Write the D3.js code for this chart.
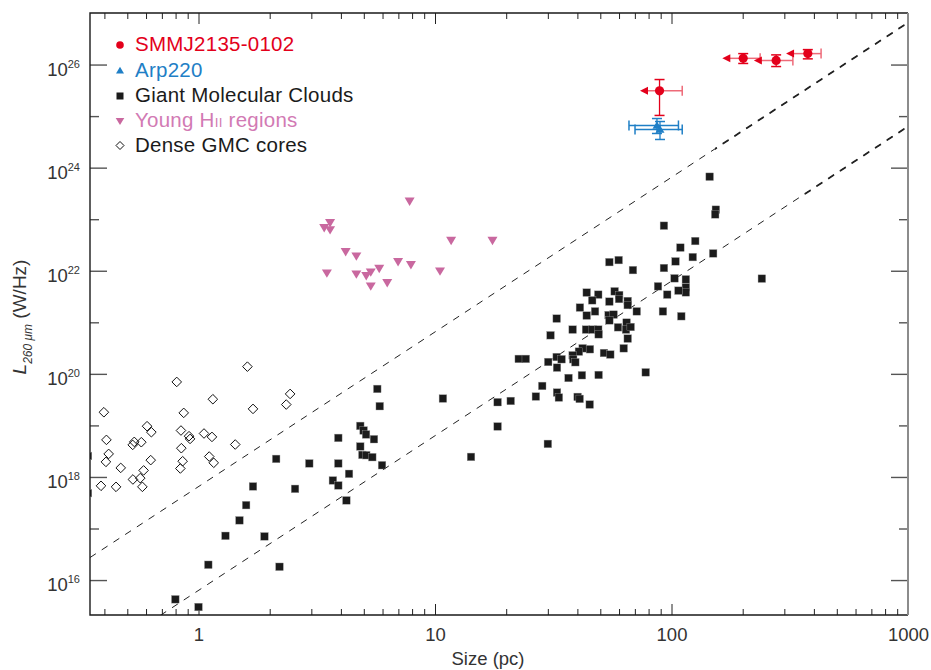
<!DOCTYPE html>
<html><head><meta charset="utf-8">
<script src="https://cdnjs.cloudflare.com/ajax/libs/d3/7.8.5/d3.min.js"></script>
<style>body{margin:0;background:#fff;} svg{display:block;font-family:"Liberation Sans",Arial,sans-serif;}</style>
</head><body><svg id="c" width="931" height="670"></svg>
<script>
// ---------------- data ----------------
const gmcSize = [5.70,5.84,4.83,4.99,5.11,5.52,3.90,4.83,4.93,5.12,5.43,5.97,2.13,2.94,3.90,4.33,3.70,3.90,4.22,1.70,2.56,1.59,1.49,1.30,1.90,1.10,2.20,0.798,1.00,0.341,0.341,
 43.8,49.0,46.2,57.5,60.1,60.0,54.6,65.3,65.3,41.0,43.8,47.5,54.2,56.9,54.6,32.7,59.4,64.6,38.2,43.5,46.4,49.0,49.2,64.2,30.8,65.3,42.1,45.2,40.6,38.2,51.8,55.1,62.8,32.7,34.3,38.4,39.2,30.1,22.6,24.2,32.8,36.7,41.8,49.2,28.4,26.7,32.8,33.4,40.1,40.9,45.1,18.4,20.9,18.4,30.0,14.2,10.8,
 145,154,153,92.9,126,109,123,150,104,54.6,59.8,68.7,92.9,103,115,115,115,107,87.7,95.9,241,92.0,110,71.3,67.2,77.8];
const gmcLum = [5.10e19,2.36e19,9.78e18,7.96e18,6.67e18,5.40e18,5.72e18,3.90e18,2.68e18,2.64e18,2.42e18,1.69e18,2.24e18,1.83e18,1.83e18,1.15e18,8.55e17,6.84e17,3.51e17,6.55e17,5.88e17,2.84e17,1.44e17,7.21e16,7.03e16,1.98e16,1.81e16,4.23e15,3.00e15,2.56e18,4.85e17,
 3.77e21,3.44e21,2.67e21,3.99e21,3.38e21,2.83e21,2.52e21,2.59e21,2.16e21,1.93e21,1.35e21,1.63e21,1.38e21,1.41e21,1.09e21,1.18e21,8.00e20,9.86e20,7.22e20,7.22e20,7.22e20,7.22e20,5.85e20,7.22e20,5.60e20,4.83e20,3.13e20,3.00e20,2.70e20,2.29e20,2.54e20,2.37e20,3.13e20,2.12e20,1.92e20,1.92e20,1.68e20,1.70e20,1.95e20,1.95e20,1.32e20,8.32e19,9.40e19,9.52e19,5.83e19,3.63e19,4.34e19,3.47e19,3.57e19,3.27e19,2.54e19,2.82e19,2.98e19,9.53e18,4.38e18,2.45e18,3.32e19,
 6.67e23,1.53e23,1.24e23,7.48e22,3.77e22,2.81e22,1.84e22,2.17e22,1.52e22,1.47e22,1.61e22,1.03e22,1.13e22,7.13e21,6.81e21,4.77e21,3.81e21,4.11e21,4.99e21,3.44e21,7.03e21,1.63e21,1.31e21,1.63e21,8.11e20,1.07e20];

const coreSize = [1.61,0.809,1.15,2.44,2.35,1.70,0.398,0.866,0.606,0.632,0.843,0.912,0.921,1.055,1.14,0.408,0.535,0.527,0.573,1.43,0.846,0.417,0.406,0.628,0.857,1.11,1.16,0.469,0.838,0.586,0.528,0.567,0.387,0.448,0.579];
const coreLum = [1.38e20,6.97e19,3.22e19,4.08e19,2.54e19,2.09e19,1.80e19,1.75e19,9.65e18,7.38e18,7.96e18,6.18e18,5.47e18,6.97e18,5.98e18,5.24e18,4.79e18,4.19e18,4.72e18,4.26e18,3.61e18,2.80e18,1.96e18,2.12e18,2.02e18,2.49e18,1.88e18,1.50e18,1.46e18,1.34e18,8.94e17,9.48e17,6.73e17,6.43e17,6.43e17];

const hiiSize = [7.81,3.60,3.40,3.60,11.7,17.5,4.19,4.65,3.49,4.65,5.35,5.12,5.81,6.98,7.91,10.5,6.28,5.35];
const hiiLum = [2.24e23,8.55e22,6.84e22,6.25e22,3.88e22,3.88e22,2.34e22,1.93e22,9.02e21,8.63e21,9.44e21,8.04e21,1.11e22,1.50e22,1.31e22,9.86e21,5.88e21,5.05e21];

const smmSize   = [89, 201, 277, 377];
const smmSizeLo = [73.6, 164, 223, 305];
const smmSizeHi = [111, 237, 326, 429];
const smmLum    = [3.09e25, 1.32e26, 1.20e26, 1.63e26];
const smmLumLo  = [1.03e25, 1.05e26, 9.15e25, 1.29e26];
const smmLumHi  = [5.12e25, 1.63e26, 1.54e26, 1.95e26];

const arpSize   = [86.8, 89.4];
const arpSizeLo = [66.1, 70.1];
const arpSizeHi = [107, 111];
const arpLum    = [6.58e24, 5.50e24];
const arpLumLo  = [4.60e24, 3.52e24];
const arpLumHi  = [8.97e24, 7.85e24];

const lineNorm = [6.5e17, 6.3e15];   // L at 1 pc for the two dashed relations
const lineSlope = 3;

const xTickLabels = ["1", "10", "100", "1000"];
const xTickValues = [1, 10, 100, 1000];
const yTickExps = [16, 18, 20, 22, 24, 26];
const yMinorExps = [17, 19, 21, 23, 25];
const legendLabels = ["SMMJ2135-0102", "Arp220", "Giant Molecular Clouds", "Young H|II| regions", "Dense GMC cores"];

// ---------------- layout ----------------
const C = {red:"#e3001b", redLight:"#ee6a78", blue:"#1f7fc6", pink:"#c9689f", pinkText:"#d27ab4", black:"#1b1b1b"};
const m = {l:90, r:908, t:13, b:615};
const svg = d3.select("#c");
const x = d3.scaleLog().domain([0.3477, 1000]).range([m.l, m.r]);
const y = d3.scaleLog().domain([2.1e15, 1e27]).range([m.b, m.t]);

svg.append("defs").append("clipPath").attr("id","clip")
  .append("rect").attr("x",m.l).attr("y",m.t).attr("width",m.r-m.l).attr("height",m.b-m.t);
svg.select("defs").append("clipPath").attr("id","clipThickA")
  .append("rect").attr("x",715).attr("y",m.t).attr("width",m.r-715).attr("height",m.b-m.t);
svg.select("defs").append("clipPath").attr("id","clipThickB")
  .append("rect").attr("x",800).attr("y",m.t).attr("width",m.r-800).attr("height",m.b-m.t);

// ---------------- ticks ----------------
const xMinor = [];
[0.1,1,10,100].forEach(d => { for (let k=2;k<=9;k++){ const v=d*k; if (v>=0.3477 && v<1000) xMinor.push(v);} });
function stripAxis(g){ g.select(".domain").remove(); }
svg.append("g").attr("transform",`translate(0,${m.b})`)
  .call(d3.axisBottom(x).tickValues(xMinor).tickSize(-6).tickFormat("")).call(stripAxis)
  .selectAll("line").attr("stroke","#222");
svg.append("g").attr("transform",`translate(0,${m.t})`)
  .call(d3.axisTop(x).tickValues(xMinor).tickSize(-6).tickFormat("")).call(stripAxis)
  .selectAll("line").attr("stroke","#222");
const xb = svg.append("g").attr("transform",`translate(0,${m.b})`)
  .call(d3.axisBottom(x).tickValues(xTickValues).tickSize(-11).tickPadding(13).tickFormat((d,i)=>xTickLabels[i])).call(stripAxis);
xb.selectAll("line").attr("stroke","#222");
xb.selectAll("text").attr("font-size",18.5).attr("fill","#333").attr("font-family","Liberation Sans, Arial, sans-serif");
svg.append("g").attr("transform",`translate(0,${m.t})`)
  .call(d3.axisTop(x).tickValues(xTickValues).tickSize(-11).tickFormat("")).call(stripAxis)
  .selectAll("line").attr("stroke","#222");

const yMaj = yTickExps.map(e => Math.pow(10,e));
const yMin = yMinorExps.map(e => Math.pow(10,e));
[[d3.axisLeft, m.l],[d3.axisRight, m.r]].forEach(([ax,pos]) => {
  svg.append("g").attr("transform",`translate(${pos},0)`)
    .call(ax(y).tickValues(yMaj).tickSize(-17).tickFormat("")).call(stripAxis)
    .selectAll("line").attr("stroke","#555").attr("stroke-width",1.4);
  svg.append("g").attr("transform",`translate(${pos},0)`)
    .call(ax(y).tickValues(yMin).tickSize(-9).tickFormat("")).call(stripAxis)
    .selectAll("line").attr("stroke","#555").attr("stroke-width",1.4);
});
const yl = svg.append("g");
yTickExps.forEach(e => {
  const t = yl.append("text").attr("x", 80).attr("y", y(Math.pow(10,e)) + 11)
    .attr("text-anchor","end").attr("fill","#333").attr("font-size",18.5);
  t.append("tspan").text("10");
  t.append("tspan").attr("font-size",11).attr("dy",-8).text(String(e));
});

// frame
svg.append("path").attr("d",`M${m.r},${m.t}H${m.l}V${m.b}H${m.r}`).attr("fill","none").attr("stroke","#1a1a1a").attr("stroke-width",1.4);
svg.append("line").attr("x1",m.r).attr("x2",m.r).attr("y1",m.t).attr("y2",m.b).attr("stroke","#8c8c8c").attr("stroke-width",2);

// ---------------- dashed relations ----------------
const plot = svg.append("g").attr("clip-path","url(#clip)");
const xd = x.domain();
lineNorm.forEach((n,i) => {
  const pts = xd.map(v => [x(v), y(n*Math.pow(v,lineSlope))]);
  const d = d3.line()(pts);
  plot.append("path").attr("d",d).attr("fill","none").attr("stroke","#222").attr("stroke-width",1).attr("stroke-dasharray","7,7");
  svg.append("g").attr("clip-path", i===0 ? "url(#clipThickA)" : "url(#clipThickB)")
    .append("path").attr("d",d).attr("fill","none").attr("stroke","#222").attr("stroke-width",1.8).attr("stroke-dasharray","7,7");
});

// ---------------- GMC squares ----------------
const sq = 7.6;
plot.append("g").selectAll("rect").data(d3.range(gmcSize.length)).join("rect")
  .attr("x", i => x(gmcSize[i]) - sq/2).attr("y", i => y(gmcLum[i]) - sq/2)
  .attr("width", sq).attr("height", sq).attr("fill", C.black)
  .attr("stroke","#9a9a9a").attr("stroke-width",0.4);

// ---------------- dense cores (open diamonds) ----------------
const dh = 4.8;
plot.append("g").selectAll("path").data(d3.range(coreSize.length)).join("path")
  .attr("d", i => { const cx=x(coreSize[i]), cy=y(coreLum[i]); return `M${cx},${cy-dh}L${cx+dh},${cy}L${cx},${cy+dh}L${cx-dh},${cy}Z`; })
  .attr("fill","none").attr("stroke","#111").attr("stroke-width",1);

// ---------------- HII regions (down triangles) ----------------
function triDown(cx,cy,s){ return `M${cx-s},${cy-s*0.72}L${cx+s},${cy-s*0.72}L${cx},${cy+s*0.95}Z`; }
function triUp(cx,cy,s){ return `M${cx-s},${cy+s*0.72}L${cx+s},${cy+s*0.72}L${cx},${cy-s*0.95}Z`; }
plot.append("g").selectAll("path").data(d3.range(hiiSize.length)).join("path")
  .attr("d", i => triDown(x(hiiSize[i]), y(hiiLum[i]), 5))
  .attr("fill", C.pink);

// ---------------- error-bar points ----------------
function errPoints(size, lo, hi, lum, llo, lhi, colH, colV, marker, arrow){
  const g = plot.append("g");
  size.forEach((s,i) => {
    const cx=x(s), cy=y(lum[i]);
    const xl=x(lo[i]), xr=x(hi[i]), yt=y(lhi[i]), yb=y(llo[i]);
    g.append("line").attr("x1", arrow? xl+7 : xl).attr("x2",xr).attr("y1",cy).attr("y2",cy).attr("stroke",colH).attr("stroke-width",1.5);
    g.append("line").attr("x1",xr).attr("x2",xr).attr("y1",cy-5).attr("y2",cy+5).attr("stroke",colH).attr("stroke-width",1.5);
    if (!arrow) g.append("line").attr("x1",xl).attr("x2",xl).attr("y1",cy-5).attr("y2",cy+5).attr("stroke",colH).attr("stroke-width",1.5);
    else g.append("path").attr("d",`M${xl},${cy}L${xl+8},${cy-4}L${xl+8},${cy+4}Z`).attr("fill",colV);
    g.append("line").attr("x1",cx).attr("x2",cx).attr("y1",yt).attr("y2",yb).attr("stroke",colV).attr("stroke-width",1.3);
    g.append("line").attr("x1",cx-5).attr("x2",cx+5).attr("y1",yt).attr("y2",yt).attr("stroke",colV).attr("stroke-width",1.5);
    g.append("line").attr("x1",cx-5).attr("x2",cx+5).attr("y1",yb).attr("y2",yb).attr("stroke",colV).attr("stroke-width",1.5);
    if (marker==="circle") g.append("circle").attr("cx",cx).attr("cy",cy).attr("r",4.6).attr("fill",colV);
    else g.append("path").attr("d",triUp(cx,cy,4.5)).attr("fill",colV);
  });
}
errPoints(arpSize, arpSizeLo, arpSizeHi, arpLum, arpLumLo, arpLumHi, C.blue, C.blue, "tri", false);
errPoints(smmSize, smmSizeLo, smmSizeHi, smmLum, smmLumLo, smmLumHi, C.redLight, C.red, "circle", true);

// ---------------- axis titles ----------------
svg.append("text").attr("x", 488).attr("y", 665).attr("text-anchor","middle")
  .attr("font-size",18.5).attr("fill","#333").text("Size (pc)");
const yt = svg.append("text").attr("transform","translate(26,317) rotate(-90)")
  .attr("text-anchor","middle").attr("font-size",19).attr("fill","#333");
yt.append("tspan").attr("font-style","italic").text("L");
yt.append("tspan").attr("font-style","italic").attr("font-size",12).attr("dy",6).text("260 μm");
yt.append("tspan").attr("dy",-6).text(" (W/Hz)");

// ---------------- legend ----------------
const legColors = [C.red, C.blue, C.black, C.pinkText, C.black];
const legY = [44, 69.5, 95, 120, 145];
const lg = svg.append("g");
legendLabels.forEach((lab,i) => {
  const cy = legY[i], cx = 120;
  if (i===0) lg.append("circle").attr("cx",cx).attr("cy",cy+1).attr("r",3.8).attr("fill",C.red);
  if (i===1) lg.append("path").attr("d",triUp(cx,cy+1,4)).attr("fill",C.blue);
  if (i===2) lg.append("rect").attr("x",cx-3.5).attr("y",cy-2.5).attr("width",7).attr("height",7).attr("fill",C.black);
  if (i===3) lg.append("path").attr("d",triDown(cx,cy+1,4.3)).attr("fill",C.pink);
  if (i===4) lg.append("path").attr("d",`M${cx},${cy-3.5}L${cx+4},${cy+0.5}L${cx},${cy+4.5}L${cx-4},${cy+0.5}Z`).attr("fill","none").attr("stroke","#111").attr("stroke-width",1);
  const t = lg.append("text").attr("x",135).attr("y",cy+7).attr("font-size",20.5).attr("fill",legColors[i]).attr("letter-spacing",0.25);
  const parts = lab.split("|");
  parts.forEach((p,k) => { const ts=t.append("tspan").text(p); if (k===1) ts.attr("font-size",13.5); });
});
</script></body></html>
